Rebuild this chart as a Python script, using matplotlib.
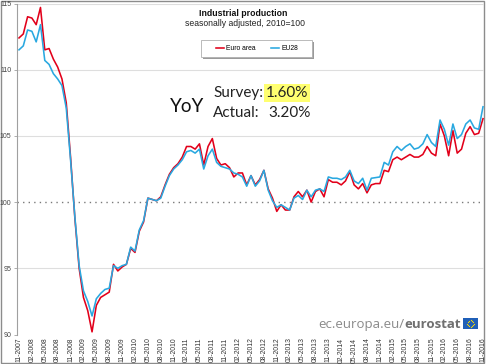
"""Industrial production, euro area vs EU28 (seasonally adjusted, 2010=100)"""

import matplotlib

matplotlib.use("Agg")
import matplotlib.pyplot as plt
import numpy as np
import pandas as pd
from matplotlib.patches import Rectangle

W, H = 486, 364

# monthly index, 11-2007 .. 11-2016
months = pd.date_range("2007-11-01", "2016-11-01", freq="MS")

euro_area = [
    112.4, 112.7, 114.0, 113.9, 113.4, 114.7, 111.5, 111.6, 110.8, 110.2,
    109.3, 107.5, 103.4, 98.8, 95.0, 92.8, 91.8, 90.2, 92.2, 92.8,
    93.0, 93.2, 95.3, 94.8, 95.1, 95.3, 96.5, 96.2, 97.8, 98.5,
    100.3, 100.2, 100.1, 100.4, 101.3, 102.1, 102.6, 102.9, 103.4, 104.2,
    104.2, 104.0, 104.4, 102.8, 104.2, 104.8, 103.3, 102.8, 102.9, 102.6,
    101.9, 102.2, 102.2, 101.3, 102.0, 101.3, 101.7, 102.4, 101.0, 100.3,
    99.3, 99.8, 99.4, 99.4, 100.4, 100.8, 100.4, 100.9, 100.0, 100.8,
    101.0, 100.4, 101.7, 101.5, 101.5, 101.3, 101.6, 102.3, 101.3, 101.0,
    101.4, 100.7, 101.3, 101.4, 101.4, 102.4, 102.3, 103.2, 103.4, 103.2,
    103.4, 103.6, 103.4, 103.4, 103.6, 104.2, 103.7, 103.5, 105.9, 105.0,
    103.5, 105.4, 103.7, 104.0, 105.2, 105.7, 105.1, 105.2, 106.3,
]
eu28 = [
    111.5, 111.8, 113.0, 112.9, 112.1, 113.4, 110.7, 110.4, 109.7, 109.3,
    108.8, 107.1, 103.2, 98.9, 95.2, 93.3, 92.5, 91.4, 92.7, 93.1,
    93.4, 93.5, 95.2, 95.0, 95.2, 95.3, 96.6, 96.3, 97.9, 98.6,
    100.3, 100.2, 100.1, 100.3, 101.2, 102.0, 102.5, 102.8, 103.2, 103.8,
    103.9, 103.7, 104.0, 102.5, 103.5, 104.0, 103.0, 102.7, 102.6, 102.5,
    102.2, 102.1, 101.9, 101.2, 102.0, 101.2, 101.6, 102.4, 100.9, 100.1,
    99.6, 99.8, 99.6, 99.4, 100.3, 100.5, 100.2, 100.9, 100.4, 100.9,
    101.0, 100.8, 101.9, 101.8, 101.8, 101.7, 101.9, 102.4, 101.6, 101.4,
    101.8, 100.9, 101.8, 101.85, 101.9, 103.0, 102.8, 103.8, 104.2, 103.9,
    104.2, 104.4, 104.0, 104.1, 104.4, 105.1, 104.5, 104.2, 106.2, 105.5,
    104.3, 105.9, 104.8, 105.1, 105.9, 106.2, 105.6, 105.5, 107.2,
]
series_names = ["Euro area", "EU28"]
series_colors = ["#e2001a", "#29a8e0"]
y_ticks = [90, 95, 100, 105, 110, 115]
survey_yoy = "1.60%"
actual_yoy = "3.20%"

x = np.arange(len(months))
tick_idx = x[::3]
tick_labels = [months[i].strftime("%m-%Y") for i in tick_idx]


def fx(px):
    return px / W


def fy(py):
    return 1 - py / H


fig = plt.figure(figsize=(W / 100, H / 100), dpi=100)
fig.patch.set_facecolor("white")

# outer frame
fig.patches.append(Rectangle((fx(0.5), fy(362.5)), fx(484) - fx(0.5), fy(0.5) - fy(362.5),
                             transform=fig.transFigure, fill=False,
                             edgecolor="#8c8c8c", lw=1.0, zorder=-3))

# legend box with light shadow (under the axes so the legend stays visible)
fig.patches.append(Rectangle((fx(202.5), fy(58.5)), fx(312) - fx(201), fy(40) - fy(57),
                             transform=fig.transFigure, facecolor="#9a9a9a",
                             edgecolor="none", zorder=-2))
fig.patches.append(Rectangle((fx(201), fy(57)), fx(312) - fx(201), fy(40) - fy(57),
                             transform=fig.transFigure, facecolor="white",
                             edgecolor="#b0b0b0", lw=0.6, zorder=-1))

ax = fig.add_axes([fx(17), fy(334.5), fx(484) - fx(17), fy(3.5) - fy(334.5)])
ax.set_facecolor("none")
px_month = 464 / 108
ax.set_xlim(-2 / px_month, 108 + 1 / px_month)
ax.set_ylim(90, 115)

# gridlines (100 = dotted reference)
for v in [95, 105, 110, 115]:
    ax.axhline(v, color="#dedede", lw=0.8, zorder=0)
ax.axhline(100, color="#7a7a7a", lw=1.0, ls=(0, (1, 3)), zorder=0)

lines = []
for vals, name, col in zip([euro_area, eu28], series_names, series_colors):
    (ln,) = ax.plot(x, vals, color=col, lw=1.15, label=name, solid_joinstyle="round")
    lines.append(ln)

for s in ["top", "right", "bottom"]:
    ax.spines[s].set_visible(False)
ax.spines["left"].set_color("#a0a0a0")
ax.spines["left"].set_linewidth(0.8)

ax.set_yticks(y_ticks)
ax.tick_params(axis="y", length=2.5, width=0.6, color="#a0a0a0", labelsize=5,
               labelcolor="#444444", pad=1.5)
ax.set_xticks(tick_idx, tick_labels, rotation=90, va="top", ha="center")
ax.tick_params(axis="x", length=0, labelsize=4.9, pad=2.2, labelcolor="#333333")
for lab in ax.get_xticklabels() + ax.get_yticklabels():
    lab.set_family("Liberation Sans")

# title
fig.text(fx(243.5), fy(13.5), "Industrial production", ha="center", va="center",
         fontsize=6.3, weight="bold", family="Liberation Sans", color="#111111")
fig.text(fx(244.5), fy(23.5), "seasonally adjusted, 2010=100", ha="center", va="center",
         fontsize=6.2, family="Liberation Sans", color="#222222")

leg = ax.legend(handles=lines, loc="center", bbox_to_anchor=(fx(257), fy(48.5)),
                bbox_transform=fig.transFigure, ncol=2, frameon=False,
                prop={"family": "Liberation Sans", "size": 4.9},
                handlelength=1.2, handletextpad=0.3, columnspacing=2.2)

# YoY annotation
fig.text(fx(170), fy(112), "YoY", ha="left", va="baseline", fontsize=13.5,
         family="Lato", color="#111111")
fig.text(fx(213), fy(97), "Survey:", ha="left", va="baseline", fontsize=11,
         family="Lato", color="#222222")
fig.text(fx(266), fy(97), survey_yoy, ha="left", va="baseline", fontsize=11,
         family="Lato", color="#222222",
         bbox=dict(boxstyle="square,pad=0.12", facecolor="#ffff70", edgecolor="none"))
fig.text(fx(213), fy(117), "Actual:", ha="left", va="baseline", fontsize=11,
         family="Lato", color="#222222")
fig.text(fx(268), fy(117), actual_yoy, ha="left", va="baseline", fontsize=11,
         family="Lato", color="#222222")

# eurostat signature
t_euro = fig.text(fx(461), fy(328), "eurostat", ha="right", va="baseline",
                  fontsize=9.5, weight="bold", family="Open Sans", color="#707070")
ax.annotate("ec.europa.eu/", xy=(0, 0), xycoords=t_euro, ha="right", va="bottom",
            fontsize=9.5, family="Open Sans", color="#8a8a8a")

# small EU flag
fig.patches.append(Rectangle((fx(463), fy(329)), fx(478) - fx(463), fy(318) - fy(329),
                             transform=fig.transFigure, facecolor="#1f5fb8",
                             edgecolor="none"))
ang = np.linspace(0, 2 * np.pi, 12, endpoint=False)
fig.add_artist(plt.Line2D(fx(470.5 + 3.3 * np.cos(ang)), fy(323.5 + 3.3 * np.sin(ang)),
                          transform=fig.transFigure, ls="none", marker="o",
                          ms=0.9, color="#ffdd00", mec="none"))

fig.savefig("out.png", dpi=100)
